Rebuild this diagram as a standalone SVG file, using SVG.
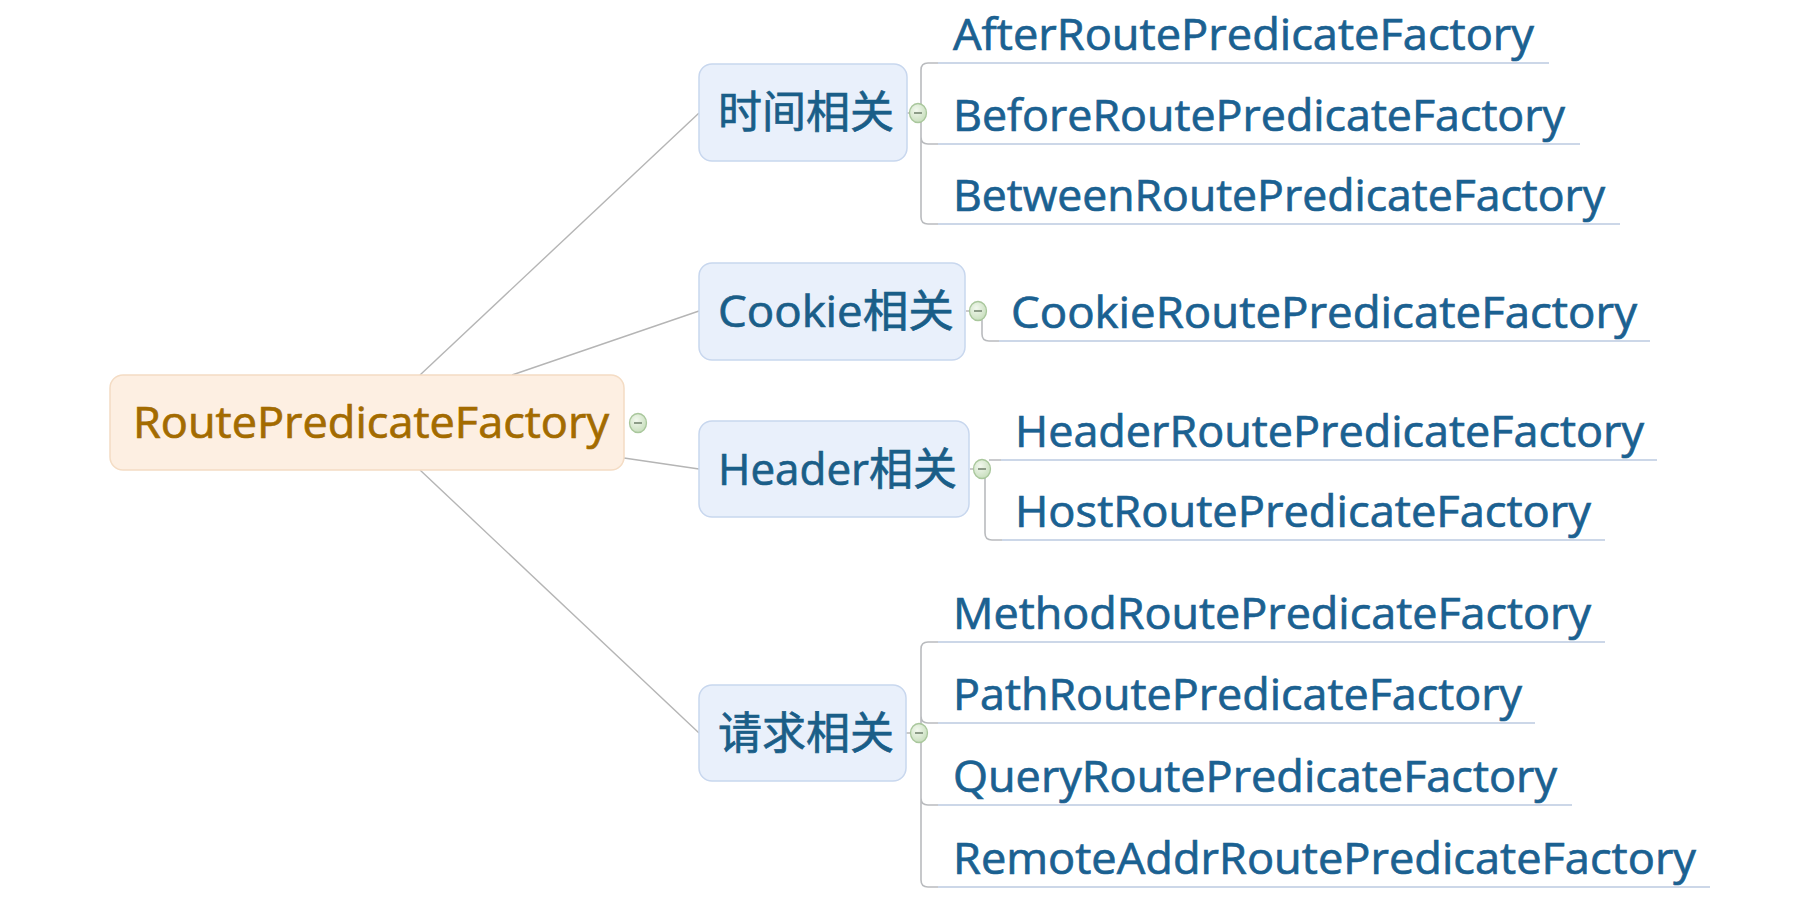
<svg xmlns="http://www.w3.org/2000/svg" width="1802" height="910" viewBox="0 0 1802 910">
<defs>
<radialGradient id="cg" cx="40%" cy="35%" r="70%">
<stop offset="0" stop-color="#f2f8ee"/>
<stop offset="1" stop-color="#c6ddbb"/>
</radialGradient>
</defs>
<style>
text{font-family:"Open Sans","Noto Sans CJK SC",sans-serif;font-size:44px;stroke-width:0.7;}
.root rect{fill:#fdefe2;stroke:#f4dcc4;stroke-width:1.5;}
.root text{fill:#a36b00;stroke:#a36b00;}
.topic rect{fill:#e9f0fb;stroke:#c8d7ee;stroke-width:1.5;}
.topic text{fill:#1a5e88;stroke:#1a5e88;}
.leaf text{fill:#1b6191;stroke:#1b6191;}
.ul{stroke:#ccd7e8;stroke-width:2;fill:none;}
.br{stroke:#b9bbbe;stroke-width:1.6;fill:none;}
.ln{stroke:#b5b5b5;stroke-width:1.4;fill:none;}
.tg ellipse{fill:url(#cg);stroke:#a9c79c;stroke-width:1.3;}
.tg line{stroke:#8d9c88;stroke-width:2;}
</style>
<rect width="1802" height="910" fill="#ffffff"/>
<g id="connectors">
<line class="ln" x1="420" y1="375" x2="699" y2="113"/>
<line class="ln" x1="512" y1="375" x2="699" y2="311"/>
<line class="ln" x1="624" y1="458" x2="699" y2="469"/>
<line class="ln" x1="420" y1="470" x2="699" y2="733"/>
<line class="ln" x1="906" y1="113" x2="912" y2="113"/>
<line class="ln" x1="966" y1="311" x2="972" y2="311"/>
<line class="ln" x1="970" y1="469" x2="975" y2="469"/>
<line class="ln" x1="906" y1="733" x2="912" y2="733"/>
<path class="br" d="M941 63 L928 63 Q921 63 921 70 L921 217 Q921 224 928 224 L941 224 M921 137 Q921 144 928 144 L941 144"/>
<path class="br" d="M982 318 L982 334 Q982 341 989 341 L1002 341"/>
<path class="br" d="M989 460 L1004 460 M985 477 L985 533 Q985 540 992 540 L1005 540"/>
<path class="br" d="M941 642 L928 642 Q921 642 921 649 L921 880 Q921 887 928 887 L941 887 M921 716 Q921 723 928 723 L941 723 M921 798 Q921 805 928 805 L941 805"/>
</g>
<g id="root" class="root">
<rect x="110" y="375" width="514" height="95" rx="13"/>
<text x="133" y="438" textLength="476" lengthAdjust="spacingAndGlyphs">RoutePredicateFactory</text>
</g>
<g id="toggle-root" class="tg"><ellipse cx="638" cy="423" rx="8.5" ry="9.5"/><line x1="634" y1="423" x2="642" y2="423"/></g>
<g id="topic-time" class="topic">
<rect x="699" y="64" width="208" height="97" rx="13"/>
<text x="718" y="128" textLength="176" lengthAdjust="spacingAndGlyphs">时间相关</text>
</g>
<g id="toggle-time" class="tg"><ellipse cx="918" cy="113" rx="8.5" ry="9.5"/><line x1="914" y1="113" x2="922" y2="113"/></g>
<g id="topic-cookie" class="topic">
<rect x="699" y="263" width="266" height="97" rx="13"/>
<text x="718" y="327" textLength="236" lengthAdjust="spacingAndGlyphs">Cookie相关</text>
</g>
<g id="toggle-cookie" class="tg"><ellipse cx="978" cy="311" rx="8.5" ry="9.5"/><line x1="974" y1="311" x2="982" y2="311"/></g>
<g id="topic-header" class="topic">
<rect x="699" y="421" width="270" height="96" rx="13"/>
<text x="718" y="485" textLength="239" lengthAdjust="spacingAndGlyphs">Header相关</text>
</g>
<g id="toggle-header" class="tg"><ellipse cx="982" cy="469" rx="8.5" ry="9.5"/><line x1="978" y1="469" x2="986" y2="469"/></g>
<g id="topic-request" class="topic">
<rect x="699" y="685" width="207" height="96" rx="13"/>
<text x="718" y="749" textLength="176" lengthAdjust="spacingAndGlyphs">请求相关</text>
</g>
<g id="toggle-request" class="tg"><ellipse cx="919" cy="733" rx="8.5" ry="9.5"/><line x1="915" y1="733" x2="923" y2="733"/></g>
<g id="leaf-after" class="leaf">
<line class="ul" x1="938" y1="63" x2="1549" y2="63"/>
<text x="953" y="50" textLength="581" lengthAdjust="spacingAndGlyphs">AfterRoutePredicateFactory</text>
</g>
<g id="leaf-before" class="leaf">
<line class="ul" x1="938" y1="144" x2="1580" y2="144"/>
<text x="953" y="131" textLength="612" lengthAdjust="spacingAndGlyphs">BeforeRoutePredicateFactory</text>
</g>
<g id="leaf-between" class="leaf">
<line class="ul" x1="938" y1="224" x2="1620" y2="224"/>
<text x="953" y="211" textLength="652" lengthAdjust="spacingAndGlyphs">BetweenRoutePredicateFactory</text>
</g>
<g id="leaf-cookie" class="leaf">
<line class="ul" x1="999" y1="341" x2="1650" y2="341"/>
<text x="1011" y="328" textLength="626" lengthAdjust="spacingAndGlyphs">CookieRoutePredicateFactory</text>
</g>
<g id="leaf-header" class="leaf">
<line class="ul" x1="1001" y1="460" x2="1657" y2="460"/>
<text x="1015" y="447" textLength="629" lengthAdjust="spacingAndGlyphs">HeaderRoutePredicateFactory</text>
</g>
<g id="leaf-host" class="leaf">
<line class="ul" x1="1002" y1="540" x2="1605" y2="540"/>
<text x="1015" y="527" textLength="576" lengthAdjust="spacingAndGlyphs">HostRoutePredicateFactory</text>
</g>
<g id="leaf-method" class="leaf">
<line class="ul" x1="938" y1="642" x2="1605" y2="642"/>
<text x="953" y="629" textLength="638" lengthAdjust="spacingAndGlyphs">MethodRoutePredicateFactory</text>
</g>
<g id="leaf-path" class="leaf">
<line class="ul" x1="938" y1="723" x2="1535" y2="723"/>
<text x="953" y="710" textLength="569" lengthAdjust="spacingAndGlyphs">PathRoutePredicateFactory</text>
</g>
<g id="leaf-query" class="leaf">
<line class="ul" x1="938" y1="805" x2="1572" y2="805"/>
<text x="953" y="792" textLength="604" lengthAdjust="spacingAndGlyphs">QueryRoutePredicateFactory</text>
</g>
<g id="leaf-remote" class="leaf">
<line class="ul" x1="938" y1="887" x2="1710" y2="887"/>
<text x="953" y="874" textLength="743" lengthAdjust="spacingAndGlyphs">RemoteAddrRoutePredicateFactory</text>
</g>
</svg>
